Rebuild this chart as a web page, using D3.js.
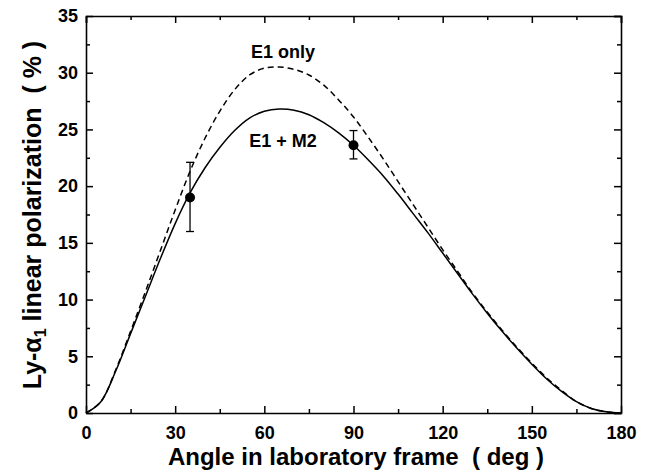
<!DOCTYPE html>
<html>
<head>
<meta charset="utf-8">
<script src="https://cdn.jsdelivr.net/npm/d3@7"></script>
<style>
  body { margin: 0; background: #fff; }
  text { font-family: "Liberation Sans", Arial, sans-serif; font-weight: bold; fill: #000; }
</style>
</head>
<body>
<div id="viz"></div>
<script>
const w = 645;
const h = 473;

const angles = [0, 5, 10, 15, 20, 25, 30, 35, 40, 45, 50, 55, 60, 65, 70, 75, 80, 85, 90,
    95, 100, 105, 110, 115, 120, 125, 130, 135, 140, 145, 150, 155, 160, 165, 170, 175, 180];
// E1 + M2 (solid)
const e1m2 = [0, 1.0, 3.7, 7.0, 10.3, 13.6, 16.7, 19.4, 21.6, 23.4, 24.9, 26.0, 26.6, 26.8, 26.7,
    26.3, 25.6, 24.7, 23.6, 22.3, 20.9, 19.3, 17.6, 15.9, 14.1, 12.3, 10.5, 8.8, 7.2, 5.7,
    4.3, 3.0, 1.9, 1.0, 0.4, 0.1, 0];
// E1 only (dashed)
const e1only = [0, 1.0, 3.8, 7.2, 10.7, 14.3, 17.9, 21.3, 24.2, 26.6, 28.5, 29.8, 30.4, 30.5, 30.3,
    29.8, 28.9, 27.6, 26.1, 24.3, 22.4, 20.4, 18.4, 16.4, 14.4, 12.5, 10.6, 8.9, 7.3, 5.8,
    4.4, 3.1, 2.0, 1.0, 0.4, 0.1, 0];
// measured points
const measAngle = [35, 90];
const measValue = [19.0, 23.6];
const measLow = [16.0, 22.4];
const measHigh = [22.1, 24.9];

const xTicks = [0, 30, 60, 90, 120, 150, 180];
const yTicks = [0, 5, 10, 15, 20, 25, 30, 35];

const margin = {top: 16, right: 24, bottom: 60, left: 86};

const svg = d3.select('#viz').append('svg')
    .attr('width', w)
    .attr('height', h)

const x = d3.scaleLinear().domain([0, 180]).range([margin.left, w - margin.right]);
const y = d3.scaleLinear().domain([0, 35]).range([h - margin.bottom, margin.top]);

// axes, ticks pointing inward on all four sides
const minorX = d3.range(15, 180, 30);
const minorY = d3.range(2.5, 35, 5);

svg.append('g')
    .attr('transform', `translate(0,${y(0)})`)
    .call(d3.axisBottom(x).tickValues(xTicks).tickSizeInner(-7).tickSizeOuter(0).tickPadding(10))
    .call(g => g.selectAll('text').attr('font-size', 18).attr('dy', '0.9em'))
svg.append('g')
    .attr('transform', `translate(0,${y(0)})`)
    .call(d3.axisBottom(x).tickValues(minorX).tickSize(-4).tickFormat(''))
    .call(g => g.select('.domain').remove())

svg.append('g')
    .attr('transform', `translate(${x(0)},0)`)
    .call(d3.axisLeft(y).tickValues(yTicks).tickSizeInner(-7).tickSizeOuter(0).tickPadding(8))
    .call(g => g.selectAll('text').attr('font-size', 18))
svg.append('g')
    .attr('transform', `translate(${x(0)},0)`)
    .call(d3.axisLeft(y).tickValues(minorY).tickSize(-4).tickFormat(''))
    .call(g => g.select('.domain').remove())

svg.append('g')
    .attr('transform', `translate(0,${y(35)})`)
    .call(d3.axisTop(x).tickValues(xTicks).tickSize(-7).tickFormat(''))
svg.append('g')
    .attr('transform', `translate(0,${y(35)})`)
    .call(d3.axisTop(x).tickValues(minorX).tickSize(-4).tickFormat(''))
    .call(g => g.select('.domain').remove())

svg.append('g')
    .attr('transform', `translate(${x(180)},0)`)
    .call(d3.axisRight(y).tickValues(yTicks).tickSize(-7).tickFormat(''))
svg.append('g')
    .attr('transform', `translate(${x(180)},0)`)
    .call(d3.axisRight(y).tickValues(minorY).tickSize(-4).tickFormat(''))
    .call(g => g.select('.domain').remove())

svg.selectAll('.domain').attr('stroke-width', 1.6)
svg.selectAll('.tick line').attr('stroke-width', 1.5)

// curves
const line = d3.line()
    .x(d => x(d[0]))
    .y(d => y(d[1]))
    .curve(d3.curveCatmullRom.alpha(0.5))

svg.append('path')
    .attr('d', line(angles.map((a, i) => [a, e1only[i]])))
    .attr('fill', 'none')
    .attr('stroke', '#000')
    .attr('stroke-width', 1.5)
    .attr('stroke-dasharray', '6,4')

svg.append('path')
    .attr('d', line(angles.map((a, i) => [a, e1m2[i]])))
    .attr('fill', 'none')
    .attr('stroke', '#000')
    .attr('stroke-width', 1.5)

// data points with error bars
const pts = svg.append('g').selectAll('g')
    .data(measAngle.map((a, i) => ({a, v: measValue[i], lo: measLow[i], hi: measHigh[i]})))
    .join('g')
pts.append('line')
    .attr('x1', d => x(d.a)).attr('x2', d => x(d.a))
    .attr('y1', d => y(d.lo)).attr('y2', d => y(d.hi))
    .attr('stroke', '#000').attr('stroke-width', 1.3)
pts.append('line')
    .attr('x1', d => x(d.a) - 4).attr('x2', d => x(d.a) + 4)
    .attr('y1', d => y(d.lo)).attr('y2', d => y(d.lo))
    .attr('stroke', '#000').attr('stroke-width', 1.3)
pts.append('line')
    .attr('x1', d => x(d.a) - 4).attr('x2', d => x(d.a) + 4)
    .attr('y1', d => y(d.hi)).attr('y2', d => y(d.hi))
    .attr('stroke', '#000').attr('stroke-width', 1.3)
pts.append('circle')
    .attr('cx', d => x(d.a))
    .attr('cy', d => y(d.v))
    .attr('r', 5)
    .attr('fill', '#000')

// curve labels
svg.append('text')
    .attr('x', 283).attr('y', 58)
    .attr('text-anchor', 'middle')
    .attr('font-size', 18)
    .text('E1 only')
svg.append('text')
    .attr('x', 283).attr('y', 147)
    .attr('text-anchor', 'middle')
    .attr('font-size', 18)
    .text('E1 + M2')

// axis titles
svg.append('text')
    .attr('x', 356)
    .attr('y', 465)
    .attr('text-anchor', 'middle')
    .attr('font-size', 24)
    .attr('xml:space', 'preserve')
    .text('Angle in laboratory frame  ( deg )')

const yt = svg.append('text')
    .attr('transform', `translate(41,215) rotate(-90)`)
    .attr('text-anchor', 'middle')
    .attr('font-size', 25)
    .attr('xml:space', 'preserve')
yt.append('tspan').text('Ly-α')
yt.append('tspan').attr('font-size', 16).attr('dy', 5).text('1')
yt.append('tspan').attr('dy', -5).text(' linear polarization  ( % )')
</script>
</body>
</html>
